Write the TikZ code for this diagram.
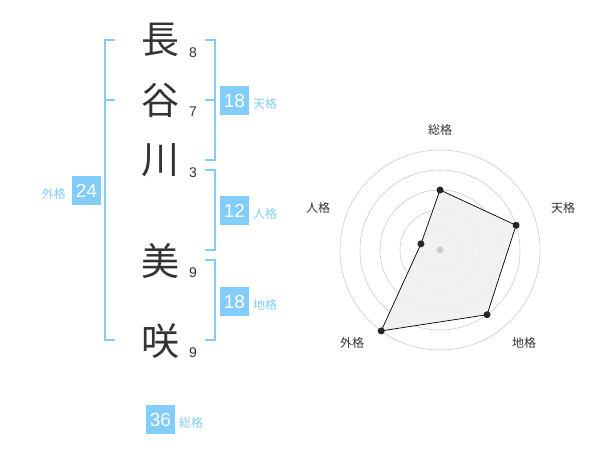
\documentclass[tikz,border=0pt]{standalone}
\usepackage{fontspec}
\setmainfont{Liberation Sans}
\newfontfamily\cjk{Noto Sans CJK JP}
\definecolor{sky}{HTML}{82CDF9}
\definecolor{ink}{HTML}{333333}
\definecolor{ring}{HTML}{CCCCCC}
\definecolor{area}{HTML}{EFEFEF}
\begin{document}
\begin{tikzpicture}[x=1pt,y=-1pt,
  kanji/.style={font=\cjk\fontsize{38}{38}\selectfont, text=ink, inner sep=0pt},
  strokes/.style={font=\fontsize{14}{14}\selectfont, text=ink, inner sep=0pt},
  numbox/.style={fill=sky, text=white, minimum size=29pt, inner sep=0pt, font=\fontsize{19}{19}\selectfont},
  lab/.style={font=\cjk\fontsize{12}{12}\selectfont, text=sky, inner sep=0pt},
  rlab/.style={font=\cjk\fontsize{12}{12}\selectfont, text=ink, inner sep=0pt},
  bracket/.style={draw=sky, line width=2pt},
  dot/.style={circle, fill=black!85, inner sep=0pt, minimum size=7pt}]
\useasboundingbox (0,0) rectangle (600,470);

% name characters
\node[kanji] (k1) at (160,40) {長};
\node[kanji] (k2) at (160,100) {谷};
\node[kanji] (k3) at (160,160) {川};
\node[kanji] (k4) at (160,261) {美};
\node[kanji] (k5) at (160,341) {咲};

\node[strokes] (s1) at (193,53) {8};
\node[strokes] (s2) at (193,112) {7};
\node[strokes] (s3) at (193,173) {3};
\node[strokes] (s4) at (193,273) {9};
\node[strokes] (s5) at (193,353) {9};

% brackets
\draw[bracket] (115,40) -- (105,40) -- (105,340) -- (115,340);
\draw[bracket] (105,100) -- (115,100);
\draw[bracket] (205,40) -- (215,40) -- (215,160) -- (205,160);
\draw[bracket] (205,100) -- (215,100);
\draw[bracket] (205,170) -- (215,170) -- (215,250) -- (205,250);
\draw[bracket] (205,260) -- (215,260) -- (215,340) -- (205,340);

% boxes and labels
\node[numbox] (ten) at (234.5,100.5) {18};
\node[lab, anchor=west] (tenl) at (253,104) {天格};
\node[numbox] (jin) at (234.5,210.5) {12};
\node[lab, anchor=west] (jinl) at (253,214) {人格};
\node[numbox] (chi) at (234.5,301.5) {18};
\node[lab, anchor=west] (chil) at (253,305) {地格};
\node[numbox] (gai) at (86.5,190.5) {24};
\node[lab, anchor=east] (gail) at (66,194) {外格};
\node[numbox] (sou) at (160.5,419.5) {36};
\node[lab, anchor=west] (soul) at (179,423) {総格};

% radar chart
\begin{scope}[shift={(440,250)}]
  \foreach \r in {20,40,60,80,100} \draw[ring, line width=0.6pt] (0,0) circle[radius=\r pt];
  \coordinate (ps) at (90:60pt);
  \coordinate (pt) at (18:80pt);
  \coordinate (pc) at (-54:80pt);
  \coordinate (pg) at (-126:100pt);
  \coordinate (pj) at (162:20pt);
  \fill[area, fill opacity=0.85] (ps) -- (pt) -- (pc) -- (pg) -- (pj) -- cycle;
  \draw[black, line width=0.7pt, line join=round] (ps) -- (pt) -- (pc) -- (pg) -- (pj) -- cycle;
  \node[circle, fill=ring, inner sep=0pt, minimum size=7pt] (ctr) at (0,0) {};
  \foreach \p in {ps,pt,pc,pg,pj} \node[dot] at (\p) {};
\end{scope}
\node[rlab] (rs) at (440,130) {総格};
\node[rlab] (rt) at (563,208) {天格};
\node[rlab] (rc) at (524,343) {地格};
\node[rlab] (rg) at (352,343) {外格};
\node[rlab] (rj) at (318,208) {人格};
\end{tikzpicture}
\end{document}
